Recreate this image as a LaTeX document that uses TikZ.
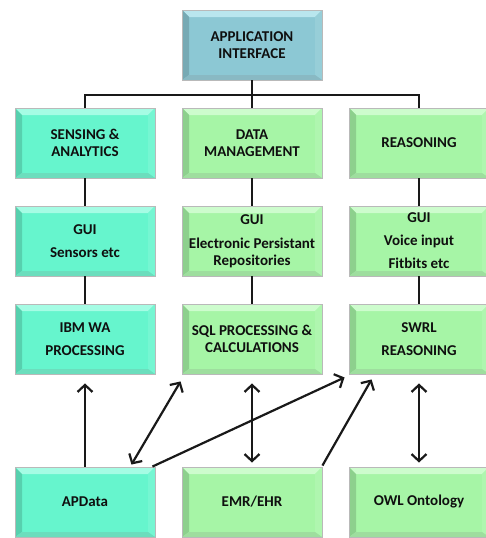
\documentclass[tikz,border=0pt]{standalone}
\usepackage{fontspec}
\setmainfont{Carlito}[BoldFont={Carlito Bold}]
\usetikzlibrary{arrows.meta,calc}
\definecolor{appblue}{RGB}{140,200,212}
\definecolor{appbluehi}{RGB}{185,230,238}
\definecolor{aqua}{RGB}{102,245,205}
\definecolor{aquahi}{RGB}{165,252,228}
\definecolor{lgreen}{RGB}{166,245,166}
\definecolor{lgreenhi}{RGB}{205,252,205}
\definecolor{txt}{RGB}{15,15,15}
\tikzset{
  box/.style n args={2}{draw=gray!55, line width=0.9pt, fill=#1,
    minimum width=140pt, minimum height=70pt, inner sep=0pt,
    align=center, font=\bfseries\fontsize{15}{17}\selectfont, text=txt,
    path picture={
      \fill[#2] (path picture bounding box.north west) -- (path picture bounding box.north east)
        -- ([xshift=-7pt,yshift=-7pt]path picture bounding box.north east)
        -- ([xshift=7pt,yshift=-7pt]path picture bounding box.north west) -- cycle;
      \fill[#1!85!black] (path picture bounding box.north west) -- ([xshift=7pt,yshift=-7pt]path picture bounding box.north west)
        -- ([xshift=7pt,yshift=5pt]path picture bounding box.south west) -- (path picture bounding box.south west) -- cycle;
      \fill[#1!90!white] (path picture bounding box.north east) -- ([xshift=-7pt,yshift=-7pt]path picture bounding box.north east)
        -- ([xshift=-7pt,yshift=5pt]path picture bounding box.south east) -- (path picture bounding box.south east) -- cycle;
      \fill[#1!80!gray] (path picture bounding box.south west) -- ([xshift=7pt,yshift=5pt]path picture bounding box.south west)
        -- ([xshift=-7pt,yshift=5pt]path picture bounding box.south east) -- (path picture bounding box.south east) -- cycle;
    }},
  conn/.style={line width=2.8pt, black!90},
  arr/.style={line width=2.2pt, black!90, -{Straight Barb[length=7pt,width=15pt,line width=2.2pt]}},
  darr/.style={line width=2.2pt, black!90, {Straight Barb[length=7pt,width=15pt,line width=2.2pt]}-{Straight Barb[length=7pt,width=15pt,line width=2.2pt]}}
}
\begin{document}
\begin{tikzpicture}[x=1pt,y=-1pt]
\useasboundingbox (0,0) rectangle (485,538);
\fill[white] (0,0) rectangle (485,538);
\coordinate (hj) at (252,95);
\node[box={appblue}{appbluehi}] (app) at (252,45) {APPLICATION\\INTERFACE};

\node[box={aqua}{aquahi}] (sens) at (85,143) {SENSING \&\\ANALYTICS};
\node[box={lgreen}{lgreenhi}] (dm) at (252,143) {DATA\\MANAGEMENT};
\node[box={lgreen}{lgreenhi}] (reas) at (419,143) {REASONING};

\node[box={aqua}{aquahi}] (gui1) at (85,241) {GUI\\[6pt]Sensors etc};
\node[box={lgreen}{lgreenhi}] (gui2) at (252,241) {GUI\\[7pt]Electronic Persistant\\Repositories};
\node[box={lgreen}{lgreenhi}] (gui3) at (419,241) {GUI\\[6pt]Voice input\\[6pt]Fitbits etc};

\node[box={aqua}{aquahi}] (ibm) at (85,339) {IBM WA\\[6pt]PROCESSING};
\node[box={lgreen}{lgreenhi}] (sql) at (252,339) {SQL PROCESSING \&\\CALCULATIONS};
\node[box={lgreen}{lgreenhi}] (swrl) at (419,339) {SWRL\\[6pt]REASONING};

\node[box={aqua}{aquahi}] (apd) at (85,502) {APData};
\node[box={lgreen}{lgreenhi}] (emr) at (252,502) {EMR/EHR};
\node[box={lgreen}{lgreenhi}] (owl) at (419,502) {OWL Ontology};

% tree connectors
\draw[conn] (app.south) -- (hj);
\draw[conn] (sens.north) |- (hj) -| (reas.north);
\draw[conn] (hj) -- (dm.north);
\draw[conn] (sens.south) -- (gui1.north);
\draw[conn] (dm.south) -- (gui2.north);
\draw[conn] (reas.south) -- (gui3.north);
\draw[conn] (gui1.south) -- (ibm.north);
\draw[conn] (gui2.south) -- (sql.north);
\draw[conn] (gui3.south) -- (swrl.north);

% arrows
\draw[arr, shorten >=9pt] (apd.north) -- (ibm.south);
\draw[darr] ($(apd.north east)+(-24,-2)$) -- ($(sql.south west)+(-1,7)$);
\draw[arr] ($(apd.north east)+(-3,0)$) -- ($(swrl.south west)+(-4,3)$);
\draw[arr] ($(emr.north east)+(0,-1)$) -- ($(swrl.south west)+(23,5)$);
\draw[darr, shorten <=9pt, shorten >=4pt] (sql.south) -- (emr.north);
\draw[darr, shorten <=9pt, shorten >=4pt] (swrl.south) -- (owl.north);
\end{tikzpicture}
\end{document}
